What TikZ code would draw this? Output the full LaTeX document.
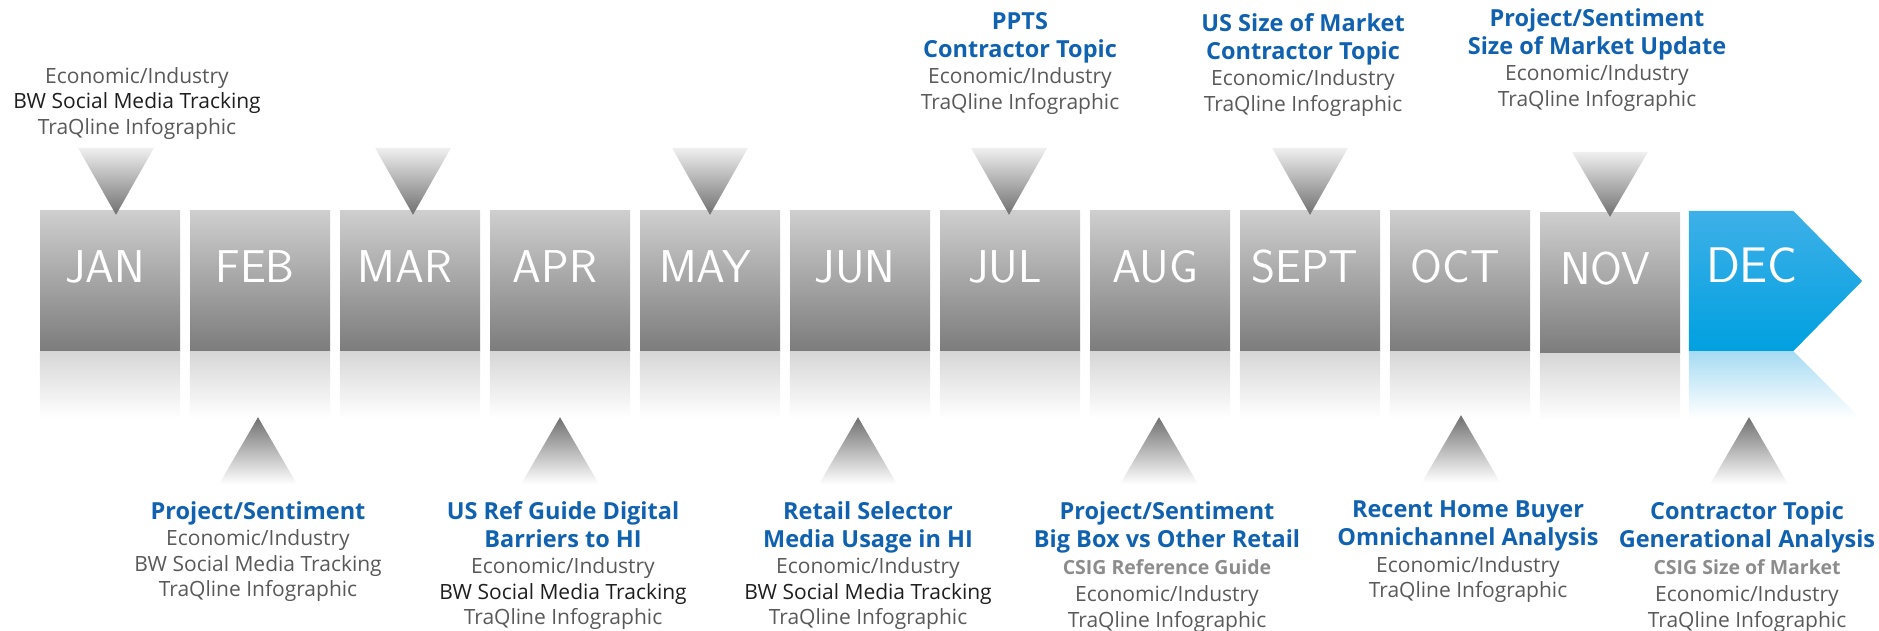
\documentclass[tikz,border=0pt]{standalone}
\usepackage{fontspec}
\setmainfont{Open Sans}
\usetikzlibrary{positioning}

\definecolor{boxtop}{RGB}{206,206,206}
\definecolor{boxbottom}{RGB}{124,124,124}
\definecolor{dectop}{RGB}{62,176,232}
\definecolor{decbottom}{RGB}{0,160,224}
\definecolor{titleblue}{RGB}{16,98,176}
\definecolor{notegray}{RGB}{89,89,89}
\definecolor{notedark}{RGB}{30,30,30}
\definecolor{csiggray}{RGB}{140,140,140}
\definecolor{fadegray}{RGB}{214,214,214}
\definecolor{fadeblue}{RGB}{166,219,243}
\definecolor{tipgray}{RGB}{112,112,112}

\newcommand{\head}[1]{{\color{titleblue}\bfseries\fontsize{23.5}{28}\selectfont #1}}
\newcommand{\dark}[1]{\textcolor{notedark}{#1}}
\newcommand{\csig}[1]{{\color{csiggray}\bfseries\fontsize{19.5}{25}\selectfont #1}}

\tikzset{
  monthtext/.style={text=white, font=\sffamily\fontsize{46}{46}\selectfont},
  monthbox/.style={monthtext, minimum width=140pt, minimum height=140pt, inner sep=0pt,
    top color=boxtop, bottom color=boxbottom, text height=34pt, text depth=32pt,
    execute at begin node=\hspace*{-10pt}},
  note/.style={align=center, inner sep=0pt, anchor=north, text=notegray,
    font=\fontsize{21}{25.5}\selectfont},
  downtri/.style={top color=white!94!black, bottom color=tipgray},
  uptri/.style={top color=tipgray, bottom color=white},
  mirror/.style={top color=fadegray, bottom color=white}
}

\begin{document}
\begin{tikzpicture}[x=1pt,y=-1pt]
\useasboundingbox (0,0) rectangle (1879,631);

%MONTHS
\node[monthbox] (jan) at (110,281) {JAN};
\node[monthbox] (feb) at (260,281) {FEB};
\node[monthbox] (mar) at (410,281) {MAR};
\node[monthbox] (apr) at (560,281) {APR};
\node[monthbox] (may) at (710,281) {MAY};
\node[monthbox] (jun) at (860,281) {JUN};
\node[monthbox] (jul) at (1010,281) {JUL};
\node[monthbox] (aug) at (1160,281) {AUG};
\node[monthbox] (sep) at (1310,281) {SEPT};
\node[monthbox] (oct) at (1460,281) {OCT};
\node[monthbox] (nov) at (1610,283) {NOV};
% december arrow
\node[minimum width=104pt, minimum height=140pt, inner sep=0pt] (dec) at (1741,281) {};
\shade[top color=dectop, bottom color=decbottom] (dec.north west) -- (dec.north east)
  -- ([xshift=69pt]dec.east) -- (dec.south east) -- (dec.south west) -- cycle;
\node[monthtext, font=\sffamily\fontsize{50}{50}\selectfont] (declabel) at (1752,265) {DEC};

%REFLECTIONS
\shade[mirror] (jan.south west) rectangle ([yshift=-67pt]jan.south east);
\shade[mirror] (feb.south west) rectangle ([yshift=-67pt]feb.south east);
\shade[mirror] (mar.south west) rectangle ([yshift=-67pt]mar.south east);
\shade[mirror] (apr.south west) rectangle ([yshift=-67pt]apr.south east);
\shade[mirror] (may.south west) rectangle ([yshift=-67pt]may.south east);
\shade[mirror] (jun.south west) rectangle ([yshift=-67pt]jun.south east);
\shade[mirror] (jul.south west) rectangle ([yshift=-67pt]jul.south east);
\shade[mirror] (aug.south west) rectangle ([yshift=-67pt]aug.south east);
\shade[mirror] (sep.south west) rectangle ([yshift=-67pt]sep.south east);
\shade[mirror] (oct.south west) rectangle ([yshift=-67pt]oct.south east);
\shade[mirror] (nov.south west) rectangle ([yshift=-67pt]nov.south east);
\shade[top color=fadeblue, bottom color=white] (dec.south west) -- (dec.south east)
  -- ([xshift=67pt,yshift=-67pt]dec.south east) -- ([yshift=-67pt]dec.south west) -- cycle;

%MARKERS
% above
\shade[downtri] ([xshift=-32pt,yshift=63pt]jan.north) -- ([xshift=44pt,yshift=63pt]jan.north) -- ([xshift=6pt,yshift=-4pt]jan.north) -- cycle;
\shade[downtri] ([xshift=-35pt,yshift=63pt]mar.north) -- ([xshift=41pt,yshift=63pt]mar.north) -- ([xshift=3pt,yshift=-4pt]mar.north) -- cycle;
\shade[downtri] ([xshift=-38pt,yshift=63pt]may.north) -- ([xshift=38pt,yshift=63pt]may.north) -- ([yshift=-4pt]may.north) -- cycle;
\shade[downtri] ([xshift=-39pt,yshift=63pt]jul.north) -- ([xshift=37pt,yshift=63pt]jul.north) -- ([xshift=-1pt,yshift=-4pt]jul.north) -- cycle;
\shade[downtri] ([xshift=-38pt,yshift=63pt]sep.north) -- ([xshift=38pt,yshift=63pt]sep.north) -- ([yshift=-4pt]sep.north) -- cycle;
\shade[downtri] ([xshift=-38pt,yshift=61pt]nov.north) -- ([xshift=38pt,yshift=61pt]nov.north) -- ([yshift=-4pt]nov.north) -- cycle;
% below
\shade[uptri] ([xshift=-2pt,yshift=-66pt]feb.south) -- ([xshift=37pt,yshift=-133pt]feb.south) -- ([xshift=-41pt,yshift=-133pt]feb.south) -- cycle;
\shade[uptri] ([yshift=-66pt]apr.south) -- ([xshift=39pt,yshift=-133pt]apr.south) -- ([xshift=-39pt,yshift=-133pt]apr.south) -- cycle;
\shade[uptri] ([xshift=-2pt,yshift=-66pt]jun.south) -- ([xshift=37pt,yshift=-133pt]jun.south) -- ([xshift=-41pt,yshift=-133pt]jun.south) -- cycle;
\shade[uptri] ([xshift=-1pt,yshift=-66pt]aug.south) -- ([xshift=38pt,yshift=-133pt]aug.south) -- ([xshift=-40pt,yshift=-133pt]aug.south) -- cycle;
\shade[uptri] ([xshift=1pt,yshift=-64pt]oct.south) -- ([xshift=40pt,yshift=-131pt]oct.south) -- ([xshift=-38pt,yshift=-131pt]oct.south) -- cycle;
\shade[uptri] ([xshift=8pt,yshift=-66pt]dec.south) -- ([xshift=47pt,yshift=-133pt]dec.south) -- ([xshift=-31pt,yshift=-133pt]dec.south) -- cycle;

%NOTES
% above
\node[note] (jannote) at (137,67) {Economic/Industry\\ \dark{BW Social Media Tracking}\\ TraQline Infographic};
\node[note] (julnote) at (1020,12) {\head{PPTS}\\[2.5pt] \head{Contractor Topic}\\[1pt] Economic/Industry\\ TraQline Infographic};
\node[note] (sepnote) at (1303,13) {\head{US Size of Market}\\[2.5pt] \head{Contractor Topic}\\[1pt] Economic/Industry\\ TraQline Infographic};
\node[note] (novnote) at (1597,8) {\head{Project/Sentiment}\\[2.5pt] \head{Size of Market Update}\\[1pt] Economic/Industry\\ TraQline Infographic};
% below
\node[note] (febnote) at (258,501) {\head{Project/Sentiment}\\[1pt] Economic/Industry\\ BW Social Media Tracking\\ TraQline Infographic};
\node[note] (aprnote) at (563,501) {\head{US Ref Guide Digital}\\[2.5pt] \head{Barriers to HI}\\[1pt] Economic/Industry\\ \dark{BW Social Media Tracking}\\ TraQline Infographic};
\node[note] (junnote) at (868,501) {\head{Retail Selector}\\[2.5pt] \head{Media Usage in HI}\\[1pt] Economic/Industry\\ \dark{BW Social Media Tracking}\\ TraQline Infographic};
\node[note] (augnote) at (1167,501) {\head{Project/Sentiment}\\[2.5pt] \head{Big Box vs Other Retail}\\[2pt] \csig{CSIG Reference Guide}\\[1.5pt] Economic/Industry\\ TraQline Infographic};
\node[note] (octnote) at (1468,501) {\head{Recent Home Buyer}\\[2.5pt] \head{Omnichannel Analysis}\\[1pt] Economic/Industry\\ TraQline Infographic};
\node[note] (decnote) at (1747,501) {\head{Contractor Topic}\\[2.5pt] \head{Generational Analysis}\\[2pt] \csig{CSIG Size of Market}\\[1.5pt] Economic/Industry\\ TraQline Infographic};

\end{tikzpicture}
\end{document}
